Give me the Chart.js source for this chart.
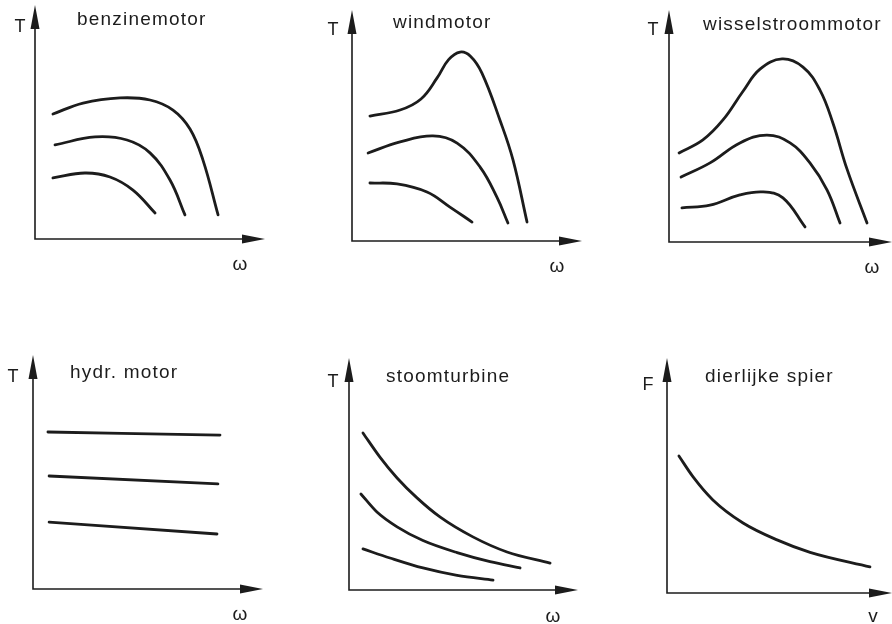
<!DOCTYPE html>
<html>
<head>
<meta charset="utf-8">
<script src="https://cdn.jsdelivr.net/npm/chart.js@4.4.0/dist/chart.umd.min.js"></script>
<style>
  html, body { margin: 0; padding: 0; background: #fff; }
  #wrap { position: relative; width: 892px; height: 624px; overflow: hidden; }
  #wrap canvas { position: absolute; left: 0; top: 0; }
</style>
</head>
<body>
<div id="wrap">
  <canvas id="c0" width="892" height="624"></canvas>
  <canvas id="c1" width="892" height="624"></canvas>
  <canvas id="c2" width="892" height="624"></canvas>
  <canvas id="c3" width="892" height="624"></canvas>
  <canvas id="c4" width="892" height="624"></canvas>
  <canvas id="c5" width="892" height="624"></canvas>
</div>
<script>
// values, axes run 0..10 (arbitrary units)
var benzineHighW = [0.78, 2.09, 3.70, 5.00, 6.00, 6.74, 7.30, 7.96];
var benzineHighT = [5.34, 5.81, 6.03, 5.94, 5.51, 4.70, 3.38, 1.03];
var benzineMidW  = [0.87, 2.61, 4.00, 5.00, 5.87, 6.52];
var benzineMidT  = [4.02, 4.36, 4.23, 3.68, 2.52, 1.03];
var benzineLowW  = [0.78, 2.17, 3.26, 4.26, 5.22];
var benzineLowT  = [2.61, 2.82, 2.65, 2.09, 1.11];

var windHighW = [0.78, 2.09, 3.00, 3.70, 4.20, 4.70, 5.15, 5.65, 6.43, 7.00, 7.61];
var windHighT = [5.41, 5.67, 6.15, 7.06, 7.85, 8.18, 8.00, 7.27, 5.24, 3.51, 0.82];
var windMidW  = [0.70, 2.09, 3.52, 4.57, 5.57, 6.30, 6.78];
var windMidT  = [3.81, 4.29, 4.55, 4.24, 3.20, 1.90, 0.78];
var windLowW  = [0.78, 1.96, 3.26, 4.26, 5.22];
var windLowT  = [2.51, 2.47, 2.12, 1.47, 0.82];

var wisselHighW = [0.45, 1.52, 2.42, 3.32, 4.08, 5.07, 6.01, 6.77, 7.35, 7.98, 8.88];
var wisselHighT = [3.84, 4.40, 5.26, 6.50, 7.45, 7.89, 7.54, 6.55, 5.13, 3.15, 0.82];
var wisselMidW  = [0.54, 1.84, 3.18, 4.39, 5.43, 6.32, 7.09, 7.67];
var wisselMidT  = [2.80, 3.41, 4.27, 4.61, 4.27, 3.41, 2.24, 0.82];
var wisselLowW  = [0.58, 1.84, 3.18, 4.22, 5.11, 6.10];
var wisselLowT  = [1.47, 1.59, 2.03, 2.16, 1.90, 0.65];

var hydrHighW = [0.65, 8.13];
var hydrHighT = [6.71, 6.58];
var hydrMidW  = [0.70, 8.04];
var hydrMidT  = [4.83, 4.49];
var hydrLowW  = [0.70, 8.00];
var hydrLowT  = [2.86, 2.35];

var stoomHighW = [0.61, 1.35, 2.10, 2.97, 3.97, 5.41, 6.90, 8.78];
var stoomHighT = [6.77, 5.73, 4.83, 3.97, 3.15, 2.29, 1.64, 1.16];
var stoomMidW  = [0.52, 1.22, 2.10, 3.23, 4.72, 6.16, 7.47];
var stoomMidT  = [4.14, 3.36, 2.72, 2.13, 1.61, 1.22, 0.95];
var stoomLowW  = [0.61, 1.79, 3.23, 4.72, 6.29];
var stoomLowT  = [1.77, 1.38, 0.95, 0.63, 0.43];

var spierV = [0.53, 1.16, 2.04, 3.38, 4.89, 6.36, 9.02];
var spierF = [5.83, 4.94, 3.96, 2.98, 2.26, 1.73, 1.11];

var titles  = ['benzinemotor', 'windmotor', 'wisselstroommotor', 'hydr. motor', 'stoomturbine', 'dierlijke spier'];
var yLabels = ['T', 'T', 'T', 'T', 'T', 'F'];
var xLabels = ['\u03c9', '\u03c9', '\u03c9', '\u03c9', '\u03c9', 'v'];

var ink = '#1c1c1c';

// where each little diagram sits on the page: origin (ox, oy) and arrow tips (tx, ty)
var panels = [
  { box: {ox: 35,  oy: 239, tx: 265, ty: 5},   yOff: [-15, 22], tOff: [42, 15], xOff: [-25, 26],
    curves: [[benzineHighW, benzineHighT], [benzineMidW, benzineMidT], [benzineLowW, benzineLowT]] },
  { box: {ox: 352, oy: 241, tx: 582, ty: 10},  yOff: [-19, 20], tOff: [41, 13], xOff: [-25, 26],
    curves: [[windHighW, windHighT], [windMidW, windMidT], [windLowW, windLowT]] },
  { box: {ox: 669, oy: 242, tx: 892, ty: 10},  yOff: [-16, 20], tOff: [34, 15], xOff: [-20, 26],
    curves: [[wisselHighW, wisselHighT], [wisselMidW, wisselMidT], [wisselLowW, wisselLowT]] },
  { box: {ox: 33,  oy: 589, tx: 263, ty: 355}, yOff: [-20, 22], tOff: [37, 18], xOff: [-23, 26],
    curves: [[hydrHighW, hydrHighT], [hydrMidW, hydrMidT], [hydrLowW, hydrLowT]], mono: true },
  { box: {ox: 349, oy: 590, tx: 578, ty: 358}, yOff: [-16, 24], tOff: [37, 19], xOff: [-25, 27],
    curves: [[stoomHighW, stoomHighT], [stoomMidW, stoomMidT], [stoomLowW, stoomLowT]], mono: true },
  { box: {ox: 667, oy: 593, tx: 892, ty: 358}, yOff: [-19, 27], tOff: [38, 19], xOff: [-19, 24],
    curves: [[spierV, spierF]], mono: true }
];

// axes with arrow heads + the little labels
var sketchAxes = {
  id: 'sketchAxes',
  afterDraw: function(chart, args, opts) {
    var ctx = chart.ctx;
    var xs = chart.scales.x, ys = chart.scales.y;
    var x0 = xs.getPixelForValue(0), y0 = ys.getPixelForValue(0);
    var x1 = xs.getPixelForValue(xs.max), y1 = ys.getPixelForValue(ys.max);
    ctx.save();
    ctx.strokeStyle = ink;
    ctx.fillStyle = ink;
    ctx.lineWidth = 1.6;
    ctx.beginPath();
    ctx.moveTo(x0, y1 + 10);
    ctx.lineTo(x0, y0);
    ctx.lineTo(x1 - 10, y0);
    ctx.stroke();
    ctx.beginPath();
    ctx.moveTo(x0, y1);
    ctx.lineTo(x0 - 4.5, y1 + 24);
    ctx.lineTo(x0 + 4.5, y1 + 24);
    ctx.closePath();
    ctx.fill();
    ctx.beginPath();
    ctx.moveTo(x1, y0);
    ctx.lineTo(x1 - 23, y0 - 4.5);
    ctx.lineTo(x1 - 23, y0 + 4.5);
    ctx.closePath();
    ctx.fill();

    ctx.textBaseline = 'middle';
    ctx.textAlign = 'center';
    ctx.font = '18px "Liberation Sans", Arial, sans-serif';
    ctx.fillText(opts.yLabel, x0 + opts.yOff[0], y1 + opts.yOff[1]);
    ctx.font = '19px "Liberation Sans", Arial, sans-serif';
    ctx.fillText(opts.xLabel, x1 + opts.xOff[0], y0 + opts.xOff[1]);
    ctx.textAlign = 'left';
    ctx.font = '19px "Liberation Sans", Arial, sans-serif';
    ctx.letterSpacing = '1.2px';
    ctx.fillText(opts.title, x0 + opts.tOff[0], y1 + opts.tOff[1]);
    ctx.restore();
  }
};

panels.forEach(function(p, i) {
  var datasets = p.curves.map(function(c) {
    return {
      data: c[0].map(function(x, k) { return {x: x, y: c[1][k]}; }),
      borderColor: ink,
      borderWidth: 2.8,
      borderCapStyle: 'round',
      borderJoinStyle: 'round',
      pointRadius: 0,
      fill: false,
      tension: 0.4,
      cubicInterpolationMode: p.mono ? 'monotone' : 'default'
    };
  });
  new Chart(document.getElementById('c' + i), {
    type: 'line',
    data: { datasets: datasets },
    options: {
      responsive: false,
      animation: false,
      layout: {
        padding: {left: p.box.ox, top: p.box.ty, right: 892 - p.box.tx, bottom: 624 - p.box.oy}
      },
      scales: {
        x: { type: 'linear', min: 0, max: 10, display: false },
        y: { type: 'linear', min: 0, max: 10, display: false }
      },
      plugins: {
        legend: { display: false },
        tooltip: { enabled: false },
        sketchAxes: {
          title: titles[i], yLabel: yLabels[i], xLabel: xLabels[i],
          yOff: p.yOff, tOff: p.tOff, xOff: p.xOff
        }
      }
    },
    plugins: [sketchAxes]
  });
});
</script>
</body>
</html>
